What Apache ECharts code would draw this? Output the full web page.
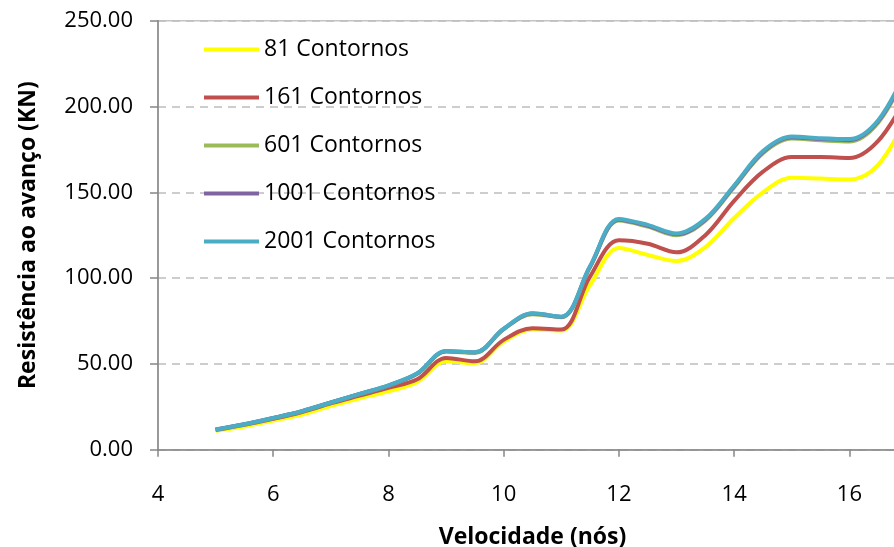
<!DOCTYPE html>
<html>
<head>
<meta charset="utf-8">
<script src="https://cdn.jsdelivr.net/npm/echarts@6/dist/echarts.min.js"></script>
<style>
  html, body { margin: 0; padding: 0; background: #fff; }
  #chart { width: 894px; height: 547px; }
</style>
</head>
<body>
<div id="chart"></div>
<script>
// Speed (knots) at which the resistance was computed
const speeds = [5, 5.5, 6, 6.5, 7, 7.5, 8, 8.5, 9, 9.5, 10, 10.5, 11, 11.5, 12, 12.5, 13, 13.5, 14, 14.5, 15, 15.5, 16, 16.5, 17];

// Resistance (KN) for each contour count
const c81   = [11.0, 13.5, 17.0, 20.5, 25.5, 30.0, 34.0, 39.5, 51.5, 50.5, 63.0, 70.0, 69.5, 96.0, 117.5, 113.5, 110.0, 118.0, 135.0, 150.0, 158.5, 158.0, 157.5, 166.0, 194.0];
const c161  = [11.5, 14.5, 18.0, 22.0, 27.0, 31.5, 36.0, 41.0, 53.5, 51.5, 64.0, 70.8, 70.0, 101.0, 122.0, 120.0, 115.0, 125.0, 145.0, 162.0, 170.5, 170.5, 170.0, 180.0, 206.0];
const c601  = [11.7, 14.7, 18.4, 22.4, 27.4, 32.4, 37.3, 44.2, 57.2, 56.5, 70.2, 79.0, 77.2, 106.5, 133.5, 130.0, 125.0, 133.5, 153.0, 172.8, 181.3, 180.3, 179.6, 190.6, 220.0];
const c1001 = [11.8, 14.8, 18.5, 22.5, 27.5, 32.5, 37.4, 44.4, 57.4, 56.7, 70.4, 79.3, 77.4, 106.8, 134.0, 130.5, 125.5, 134.0, 153.5, 173.4, 182.0, 181.0, 180.4, 191.4, 221.0];
const c2001 = [11.8, 14.8, 18.5, 22.5, 27.5, 32.5, 37.5, 44.5, 57.5, 56.8, 70.5, 79.5, 77.5, 107.0, 134.5, 131.0, 126.0, 134.5, 154.0, 174.0, 182.5, 181.5, 181.0, 192.0, 222.0];

const seriesNames = ['81 Contornos', '161 Contornos', '601 Contornos', '1001 Contornos', '2001 Contornos'];
const seriesValues = [c81, c161, c601, c1001, c2001];
const seriesColors = ['#FFFF00', '#C0504D', '#9BBB59', '#8064A2', '#4BACC6'];

// Y axis tick values and how they are printed
const yTicks = [0, 50, 100, 150, 200, 250];
const fmtY = v => v.toFixed(2);

const FONT = 'Open Sans';

const chart = echarts.init(document.getElementById('chart'));

chart.setOption({
  animation: false,
  backgroundColor: '#ffffff',
  textStyle: { fontFamily: FONT },
  grid: {
    left: 158, top: 20.7, width: 749, bottom: 97.3,
    outerBoundsMode: 'none',
    containLabel: false,
    show: true, borderColor: '#c4c4c4', borderWidth: 1.5
  },
  legend: {
    orient: 'vertical',
    left: 199, top: 33,
    itemWidth: 55, itemHeight: 4, itemGap: 25,
    icon: 'rect',
    textStyle: { fontFamily: FONT, fontSize: 23, color: '#000' },
    data: seriesNames
  },
  xAxis: {
    type: 'value',
    min: 4, max: 17, interval: 2,
    name: 'Velocidade (nós)',
    nameLocation: 'middle',
    nameGap: 76,
    nameTextStyle: { fontFamily: FONT, fontSize: 23, fontWeight: 'bold', color: '#000' },
    axisLine: { show: true, onZero: false, lineStyle: { color: '#868686', width: 1.5 } },
    axisTick: { show: true, length: 7, lineStyle: { color: '#868686', width: 1.5 } },
    axisLabel: {
      margin: 34, fontFamily: FONT, fontSize: 22, color: '#000',
      showMaxLabel: false
    },
    splitLine: { show: false }
  },
  yAxis: {
    type: 'value',
    min: yTicks[0], max: yTicks[yTicks.length - 1], interval: 50,
    name: 'Resistência ao avanço (KN)',
    nameLocation: 'middle',
    nameGap: 118,
    nameTextStyle: { fontFamily: FONT, fontSize: 23, fontWeight: 'bold', color: '#000' },
    axisLine: { show: true, lineStyle: { color: '#868686', width: 1.5 } },
    axisTick: { show: true, length: 8, lineStyle: { color: '#868686', width: 1.5 } },
    axisLabel: {
      margin: 25, fontFamily: FONT, fontSize: 22, color: '#000',
      formatter: v => fmtY(v)
    },
    splitLine: { show: true, lineStyle: { color: '#bdbdbd', width: 1.5, type: [8, 6] } }
  },
  series: seriesNames.map((name, i) => ({
    name,
    type: 'line',
    smooth: 0.35,
    symbol: 'none',
    color: seriesColors[i],
    lineStyle: { width: 4, color: seriesColors[i] },
    data: speeds.map((s, j) => [s, seriesValues[i][j]])
  }))
});
</script>
</body>
</html>
